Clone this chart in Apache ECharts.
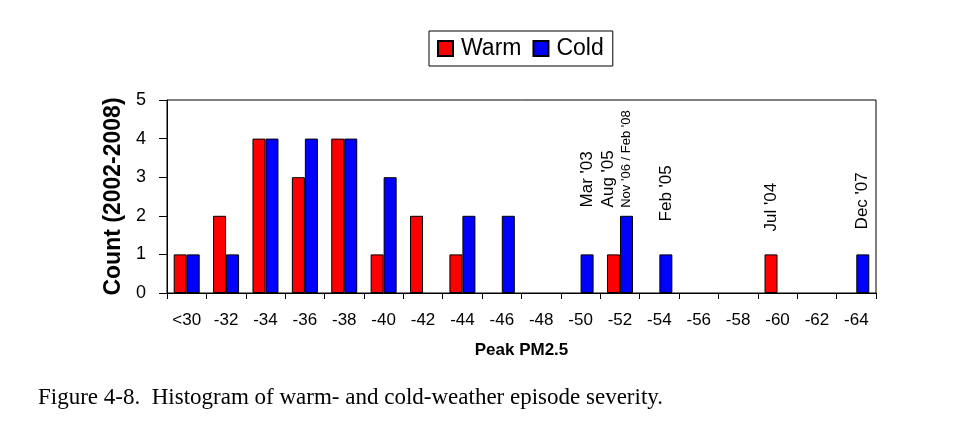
<!DOCTYPE html>
<html>
<head>
<meta charset="utf-8">
<script src="https://cdn.jsdelivr.net/npm/echarts@6/dist/echarts.min.js"></script>
<style>
    html, body { margin: 0; padding: 0; background: #fff; }
    #main { width: 980px; height: 422px; }
</style>
</head>
<body>
<div id="main"></div>
<script>
// values
let bins = ['<30', '-32', '-34', '-36', '-38', '-40', '-42', '-44', '-46', '-48', '-50', '-52', '-54', '-56', '-58', '-60', '-62', '-64'];
let warmCounts = [1, 2, 4, 3, 4, 1, 2, 1, 0, 0, 0, 1, 0, 0, 0, 1, 0, 0];
let coldCounts = [1, 1, 4, 4, 4, 3, 0, 2, 2, 0, 1, 2, 1, 0, 0, 0, 0, 1];
let warmNotes = ['', '', '', '', '', '', '', '', '', '', '', "Aug '05", '', '', '', "Jul '04", '', ''];
let coldNotes = ['', '', '', '', '', '', '', '', '', '', "Mar '03", "Nov '06 / Feb '08", "Feb '05", '', '', '', '', "Dec '07"];

// how far each note sits above its bar (px), and its size
let noteStyle = {
    "Aug '05": { distance: 47, fontSize: 17, offset: [0, -5] },
    "Jul '04": { distance: 23, fontSize: 17 },
    "Mar '03": { distance: 47, fontSize: 17 },
    "Nov '06 / Feb '08": { distance: 8, fontSize: 13 },
    "Feb '05": { distance: 33, fontSize: 17 },
    "Dec '07": { distance: 25, fontSize: 17 }
};

function buildData(counts, notes) {
    return counts.map((v, i) => {
        let note = notes[i];
        let item = { value: v };
        if (v === 0) {
            // empty bin: no outline at the base
            item.itemStyle = { borderWidth: 0 };
        }
        if (note) {
            item.label = {
                show: true,
                position: 'top',
                rotate: 90,
                align: 'left',
                verticalAlign: 'middle',
                distance: noteStyle[note].distance,
                offset: noteStyle[note].offset || [0, 0],
                fontSize: noteStyle[note].fontSize,
                color: '#000',
                fontFamily: 'Liberation Sans, Arial, sans-serif',
                formatter: note
            };
        }
        return item;
    });
}

var myChart = echarts.init(document.getElementById('main'));
var option = {
    animation: false,
    textStyle: { fontFamily: 'Liberation Sans, Arial, sans-serif', color: '#000' },
    legend: {
        left: 429,
        top: 31,
        orient: 'horizontal',
        icon: 'rect',
        itemWidth: 15,
        itemHeight: 15,
        itemGap: 11,
        borderColor: '#000',
        borderWidth: 1,
        padding: [6, 9, 6, 8],
        textStyle: { fontSize: 23, color: '#000', padding: [0, 0, 0, 3] },
        data: ['Warm', 'Cold']
    },
    grid: {
        left: 167,
        right: 104,
        top: 100,
        bottom: 129,
        show: true,
        borderColor: '#000',
        borderWidth: 1,
        backgroundColor: 'transparent'
    },
    xAxis: {
        type: 'category',
        data: bins,
        name: 'Peak PM2.5',
        nameLocation: 'middle',
        nameGap: 49,
        nameTextStyle: { fontSize: 17, fontWeight: 'bold', color: '#000' },
        axisLine: { lineStyle: { color: '#000', width: 1 } },
        axisTick: { show: true, length: 6, lineStyle: { color: '#000' } },
        axisLabel: { fontSize: 17, color: '#000', margin: 19, interval: 0 }
    },
    yAxis: {
        type: 'value',
        min: 0,
        max: 5,
        interval: 1,
        name: 'Count (2002-2008)',
        nameLocation: 'middle',
        nameGap: 42,
        nameTextStyle: { fontSize: 23, fontWeight: 'bold', color: '#000' },
        axisLine: { show: true, lineStyle: { color: '#000', width: 1 } },
        axisTick: { show: true, length: 8, lineStyle: { color: '#000' } },
        axisLabel: { fontSize: 18, color: '#000', margin: 21, padding: [7, 0, 0, 0] },
        splitLine: { show: false }
    },
    series: [
        {
            name: 'Warm',
            type: 'bar',
            data: buildData(warmCounts, warmNotes),
            barGap: '0%',
            barCategoryGap: '34%',
            itemStyle: { color: '#ff0000', borderColor: '#000', borderWidth: 1 }
        },
        {
            name: 'Cold',
            type: 'bar',
            data: buildData(coldCounts, coldNotes),
            barGap: '0%',
            barCategoryGap: '34%',
            itemStyle: { color: '#0000ff', borderColor: '#000', borderWidth: 1 }
        }
    ],
    graphic: [
        {
            type: 'text',
            left: 38,
            top: 386,
            style: {
                text: 'Figure 4-8.  Histogram of warm- and cold-weather episode severity.',
                font: '23px "Liberation Serif", "Times New Roman", serif',
                fill: '#000'
            }
        }
    ]
};
myChart.setOption(option);
</script>
</body>
</html>
